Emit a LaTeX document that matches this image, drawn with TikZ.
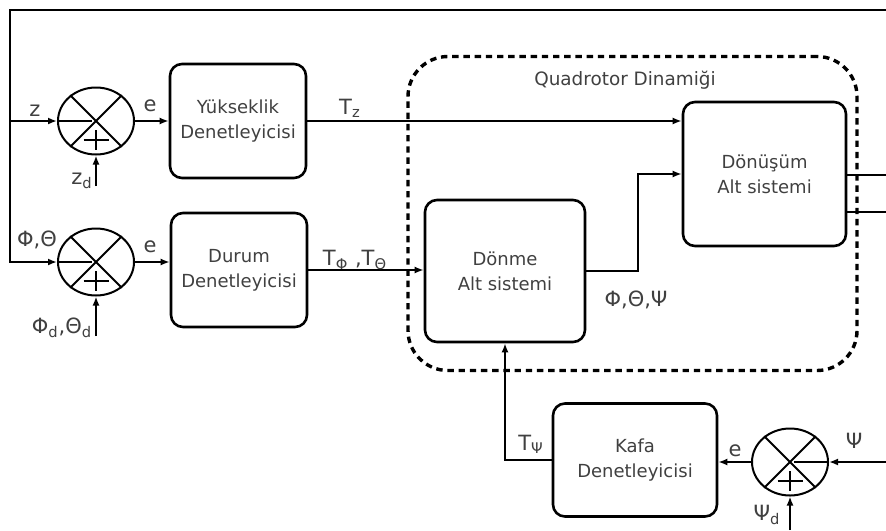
\documentclass[tikz,border=0pt]{standalone}
\usepackage{fontspec}
\setmainfont{DejaVu Sans}
\usetikzlibrary{arrows.meta,shapes.geometric}
\begin{document}
\begin{tikzpicture}[x=0.5pt,y=-0.5pt,
  blk/.style={draw,line width=1.3pt,rounded corners=6pt,align=center,
    font=\fontsize{9}{12.5}\selectfont,text=black!75,inner sep=0pt},
  sumn/.style={draw,ellipse,line width=1pt,minimum width=38pt,minimum height=33.5pt,inner sep=0pt},
  con/.style={line width=0.9pt,-{Latex[length=4.5pt,width=3.5pt]}},
  ln/.style={line width=0.9pt},
  sgn/.style={line width=1pt},
  frm/.style={draw,line width=1.7pt,dash pattern=on 3.2pt off 2.4pt,rounded corners=20pt,inner sep=0pt},
  lbl/.style={font=\fontsize{10.5}{12}\selectfont,text=black!75,inner sep=1pt},
  ttl/.style={font=\fontsize{9.2}{11}\selectfont,text=black!75,inner sep=1pt}]
\useasboundingbox (0,0) rectangle (886,530);

% frame
\node[frm,minimum width=224.5pt,minimum height=157pt] (qd) at (632.5,213.5) {};
\node[ttl] (qdl) at (625,80) {Quadrotor Dinamiği};

% blocks
\node[blk,minimum width=68pt,minimum height=57pt] (yuk) at (238,121) {Yükseklik\\Denetleyicisi};
\node[blk,minimum width=68pt,minimum height=57pt] (dur) at (239,270) {Durum\\Denetleyicisi};
\node[blk,minimum width=81.5pt,minimum height=72pt] (donu) at (764.5,174) {Dönüşüm\\Alt sistemi};
\node[blk,minimum width=80pt,minimum height=71pt] (dnm) at (505,271) {Dönme\\Alt sistemi};
\node[blk,minimum width=82pt,minimum height=56.5pt] (kafa) at (635,460) {Kafa\\Denetleyicisi};

% summing junctions
\node[sumn] (s1) at (96,121) {};
\node[sumn] (s2) at (96,262) {};
\node[sumn] (s3) at (790,462) {};
\foreach \s in {s1,s2,s3}{
  \draw[sgn] (\s.45) -- (\s.225) (\s.135) -- (\s.315);
  \draw[sgn] ([xshift=-6.25pt,yshift=-9.5pt]\s.center) -- ++(12.5pt,0pt);
  \draw[sgn] ([yshift=-4.5pt]\s.center) -- ++(0pt,-10pt);
}
\draw[sgn] (s1.west) -- ([xshift=-2pt]s1.center);
\draw[sgn] (s2.west) -- ([xshift=-2pt]s2.center);
\draw[sgn] (s3.east) -- ([xshift=2pt]s3.center);

% coordinates
\coordinate (tr) at (886,10);
\coordinate (tl) at (10,10);
\coordinate (jz) at (10,121);
\coordinate (zd) at (96,186);
\coordinate (pd) at (96,336);
\coordinate (o1) at (886,175);
\coordinate (o2) at (886,212);
\coordinate (psi) at (886,462);
\coordinate (psid) at (790,530);

% connectors
\draw[con] (tr) -- (tl) |- (s2.west);
\draw[con] (jz) -- (s1.west);
\draw[con] (zd) -- (s1.south);
\draw[con] (pd) -- (s2.south);
\draw[con] (s1.east) -- (s1.east -| yuk.west);
\draw[con] (s2.east) -- (s2.east -| dur.west);
\draw[con] (yuk.east) -- (yuk.east -| donu.west);
\draw[con] (dur.east) -- (dur.east -| dnm.west);
\draw[con] (dnm.east) -- ++(52,0) |- (donu.west);
\draw[ln] (o1 -| donu.east) -- (o1);
\draw[ln] (o2 -| donu.east) -- (o2);
\draw[con] (psi) -- (s3.east);
\draw[con] (psid) -- (s3.south);
\draw[con] (s3.west) -- (s3.west -| kafa.east);
\draw[con] (kafa.west) -| (dnm.south);

% labels
\node[lbl] (lz) at (35,111) {z};
\node[lbl] (le1) at (150,106) {e};
\node[lbl] (lzd) at (82,181) {z\textsubscript{d}};
\node[lbl] (ltz) at (350,108) {T\textsubscript{z}};
\node[lbl] (lpt) at (37,240) {Φ,Θ};
\node[lbl] (le2) at (150,247) {e};
\node[lbl] (lptd) at (62,328) {Φ\textsubscript{d},Θ\textsubscript{d}};
\node[lbl] (ltpt) at (355,260) {T\textsubscript{Φ} ,T\textsubscript{Θ}};
\node[lbl] (lptp) at (636,300) {Φ,Θ,Ψ};
\node[lbl] (ltps) at (531,444) {T\textsubscript{Ψ}};
\node[lbl] (le3) at (735,451) {e};
\node[lbl] (lpsi) at (854,441) {Ψ};
\node[lbl] (lpsid) at (767,515) {Ψ\textsubscript{d}};
\end{tikzpicture}
\end{document}
